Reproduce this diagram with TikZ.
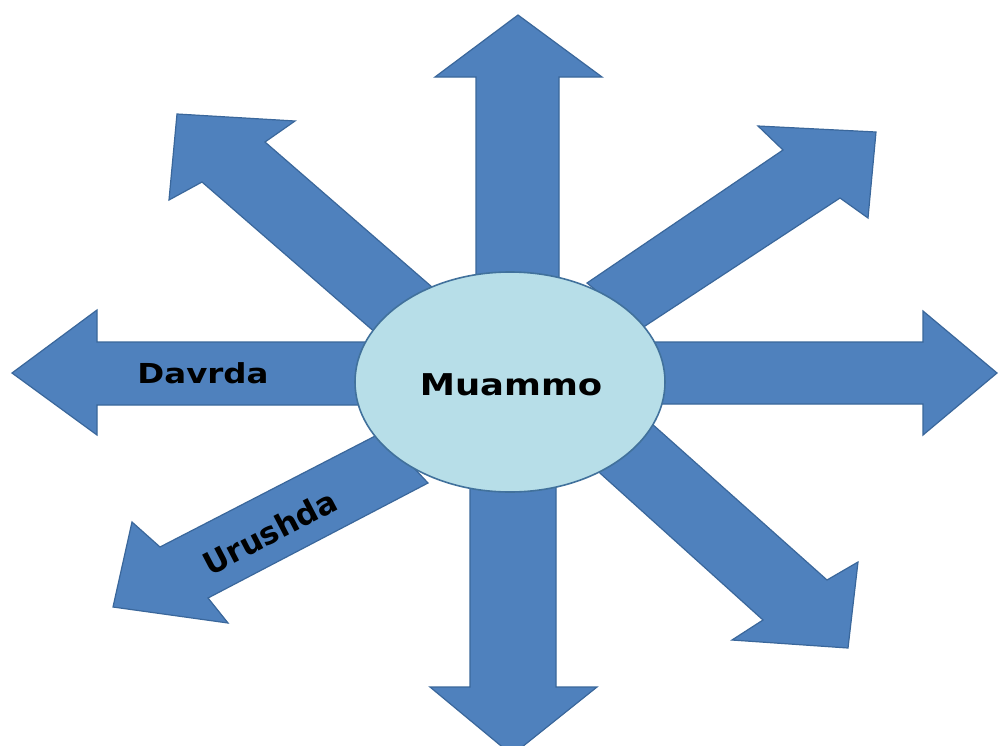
\documentclass[tikz,border=0pt]{standalone}
\usepackage{fontspec}
\setmainfont{DejaVu Sans}
\usetikzlibrary{shapes.geometric}
\definecolor{arrowfill}{HTML}{4F81BD}
\definecolor{arrowline}{HTML}{3A679B}
\definecolor{circfill}{HTML}{B7DEE8}
\definecolor{circline}{HTML}{41719C}
\tikzset{
  bigarrow/.style={fill=arrowfill, draw=arrowline, line width=1.2pt, line join=miter},
  lbl/.style={text=black, inner sep=0pt},
}
\begin{document}
\begin{tikzpicture}[x=1pt,y=-1pt]
\clip (0,0) rectangle (998,745);
\fill[white] (0,0) rectangle (998,745);
% up
\draw[bigarrow] (476,285) -- (476,77) -- (435,77) -- (518,15) -- (602,77) -- (559,77) -- (559,285) -- cycle;
% down
\draw[bigarrow] (470,480) -- (470,687) -- (430,687) -- (512,755) -- (597,687) -- (556,687) -- (556,480) -- cycle;
% left
\draw[bigarrow] (370,342) -- (97,342) -- (97,310) -- (12,373) -- (97,435) -- (97,405) -- (370,405) -- cycle;
% right
\draw[bigarrow] (650,342) -- (923,342) -- (923,311) -- (997,373) -- (923,435) -- (923,404) -- (650,404) -- cycle;
% upper right
\draw[bigarrow] (587,283) -- (783,150) -- (758,126) -- (876,132) -- (868,218) -- (840,198) -- (642,328) -- cycle;
% upper left
\draw[bigarrow] (440,294) -- (265,142) -- (295,121) -- (177,114) -- (169,200) -- (202,182) -- (377,334) -- cycle;
% lower right
\draw[bigarrow] (651,423) -- (827,580) -- (858,562) -- (848,648) -- (732,640) -- (763,620) -- (591,465) -- cycle;
% lower left
\draw[bigarrow] (381,433) -- (160,547) -- (132,522) -- (113,607) -- (228,623) -- (208,598) -- (428,483) -- cycle;
% centre
\node[ellipse, minimum width=310pt, minimum height=220pt, inner sep=0pt, fill=circfill, draw=circline, line width=1.6pt] (centre) at (510,382) {};
\node[lbl, xscale=1.18, font=\fontsize{30}{30}\selectfont\bfseries, anchor=base] (muammo) at (511,395) {Muammo};
\node[lbl, xscale=1.18, font=\fontsize{27.5}{27.5}\selectfont\bfseries, anchor=base] (davrda) at (203,383) {Davrda};
\node[lbl, font=\fontsize{31}{31}\selectfont\bfseries, rotate=27.5] (urushda) at (270,532) {Urushda};
\end{tikzpicture}
\end{document}
